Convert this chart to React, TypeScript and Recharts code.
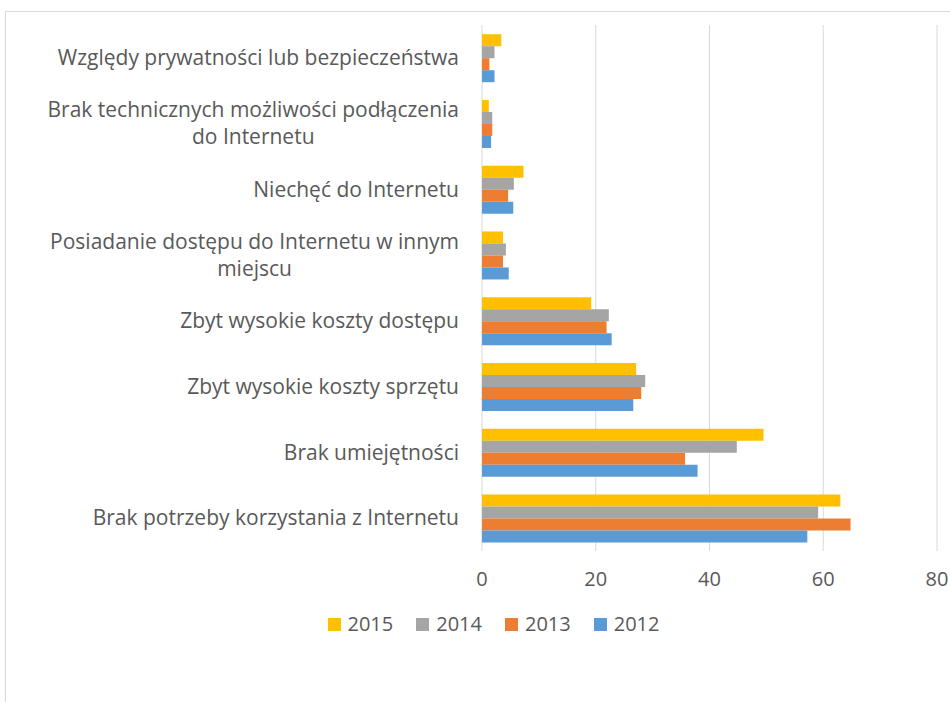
import React from 'react';
import { BarChart, Bar, XAxis, YAxis, CartesianGrid, Legend } from 'recharts';

const categoryLines: string[][] = [
  ['Względy prywatności lub bezpieczeństwa'],
  ['Brak technicznych możliwości podłączenia', 'do Internetu'],
  ['Niechęć do Internetu'],
  ['Posiadanie dostępu do Internetu w innym', 'miejscu'],
  ['Zbyt wysokie koszty dostępu'],
  ['Zbyt wysokie koszty sprzętu'],
  ['Brak umiejętności'],
  ['Brak potrzeby korzystania z Internetu'],
];

const v2015 = [3.4, 1.2, 7.3, 3.7, 19.2, 27.1, 49.5, 63.0];
const v2014 = [2.2, 1.8, 5.6, 4.2, 22.3, 28.7, 44.8, 59.1];
const v2013 = [1.3, 1.8, 4.6, 3.7, 21.9, 28.0, 35.7, 64.8];
const v2012 = [2.2, 1.6, 5.5, 4.7, 22.8, 26.6, 37.9, 57.2];

const xTicks = [0, 20, 40, 60, 80];

const seriesDefs = [
  { key: '2015', color: '#FFC000' },
  { key: '2014', color: '#A5A5A5' },
  { key: '2013', color: '#ED7D31' },
  { key: '2012', color: '#5B9BD5' },
];

const data = categoryLines.map((lines, i) => ({
  name: lines.join(' '),
  '2015': v2015[i],
  '2014': v2014[i],
  '2013': v2013[i],
  '2012': v2012[i],
}));

const FONT = '"Open Sans", sans-serif';
const CAT_FONT_SIZE = 21;
const FONT_SIZE = 20;
const TEXT_COLOR = '#595959';

let measureCtx: CanvasRenderingContext2D | null = null;
function measure(text: string): number {
  if (!measureCtx) {
    const c = document.createElement('canvas');
    measureCtx = c.getContext('2d');
  }
  if (!measureCtx) return text.length * CAT_FONT_SIZE * 0.5;
  measureCtx.font = `${CAT_FONT_SIZE}px "Open Sans"`;
  return measureCtx.measureText(text).width;
}

const YTick = (props: any) => {
  const { x, y, payload } = props;
  const idx = data.findIndex((d) => d.name === payload.value);
  const lines = idx >= 0 ? categoryLines[idx] : [String(payload.value)];
  const right = x;
  const lineH = 27;
  const firstW = measure(lines[0]);
  const center = right - firstW / 2;
  const startY = y - ((lines.length - 1) * lineH) / 2;
  return (
    <g>
      {lines.map((ln, i) => (
        <text
          key={i}
          x={i === 0 ? right : center}
          y={startY + i * lineH}
          dy="0.35em"
          textAnchor={i === 0 ? 'end' : 'middle'}
          fill={TEXT_COLOR}
          fontSize={CAT_FONT_SIZE}
          fontFamily={FONT}
        >
          {ln}
        </text>
      ))}
    </g>
  );
};

const XTick = (props: any) => {
  const { x, y, payload } = props;
  return (
    <text x={x} y={y} dy="0.35em" textAnchor="middle" fill={TEXT_COLOR} fontSize={FONT_SIZE} fontFamily={FONT}>
      {payload.value}
    </text>
  );
};

const LegendContent = () => (
  <div style={{ display: 'flex', justifyContent: 'center', alignItems: 'center', height: 40 }}>
    {seriesDefs.map((s, i) => (
      <div key={s.key} style={{ display: 'flex', alignItems: 'center', marginLeft: i === 0 ? 0 : 23 }}>
        <div style={{ width: 13, height: 13, background: s.color, marginRight: 7 }} />
        <span style={{ fontFamily: FONT, fontSize: FONT_SIZE, color: TEXT_COLOR, lineHeight: '20px' }}>{s.key}</span>
      </div>
    ))}
  </div>
);

export default function App() {
  return (
    <div style={{ position: 'absolute', left: 0, top: 0, width: 950, height: 702, overflow: 'hidden', background: '#fff' }}>
      <div
        style={{
          position: 'absolute',
          left: 5,
          top: 11,
          width: 1000,
          height: 800,
          border: '1px solid #d9d9d9',
          boxSizing: 'border-box',
        }}
      />
      <BarChart
        width={950}
        height={702}
        data={data}
        layout="vertical"
        margin={{ top: 25, right: 13, left: 0, bottom: 58 }}
        barCategoryGap="14%"
        barGap={0}
      >
        <CartesianGrid horizontal={false} vertical={true} stroke="#d9d9d9" strokeWidth={1} />
        <XAxis
          type="number"
          domain={[0, 80]}
          ticks={xTicks}
          axisLine={false}
          tickLine={false}
          height={53}
          tickMargin={22}
          tick={<XTick />}
          interval={0}
        />
        <YAxis
          type="category"
          dataKey="name"
          width={482}
          axisLine={false}
          tickLine={false}
          tickMargin={17}
          tick={<YTick />}
          interval={0}
        />
        <Legend
          verticalAlign="bottom"
          height={40}
          content={<LegendContent />}
          wrapperStyle={{ left: 0, width: 987 }}
        />
        {seriesDefs.map((s) => (
          <Bar key={s.key} dataKey={s.key} fill={s.color} isAnimationActive={false} />
        ))}
      </BarChart>
    </div>
  );
}
